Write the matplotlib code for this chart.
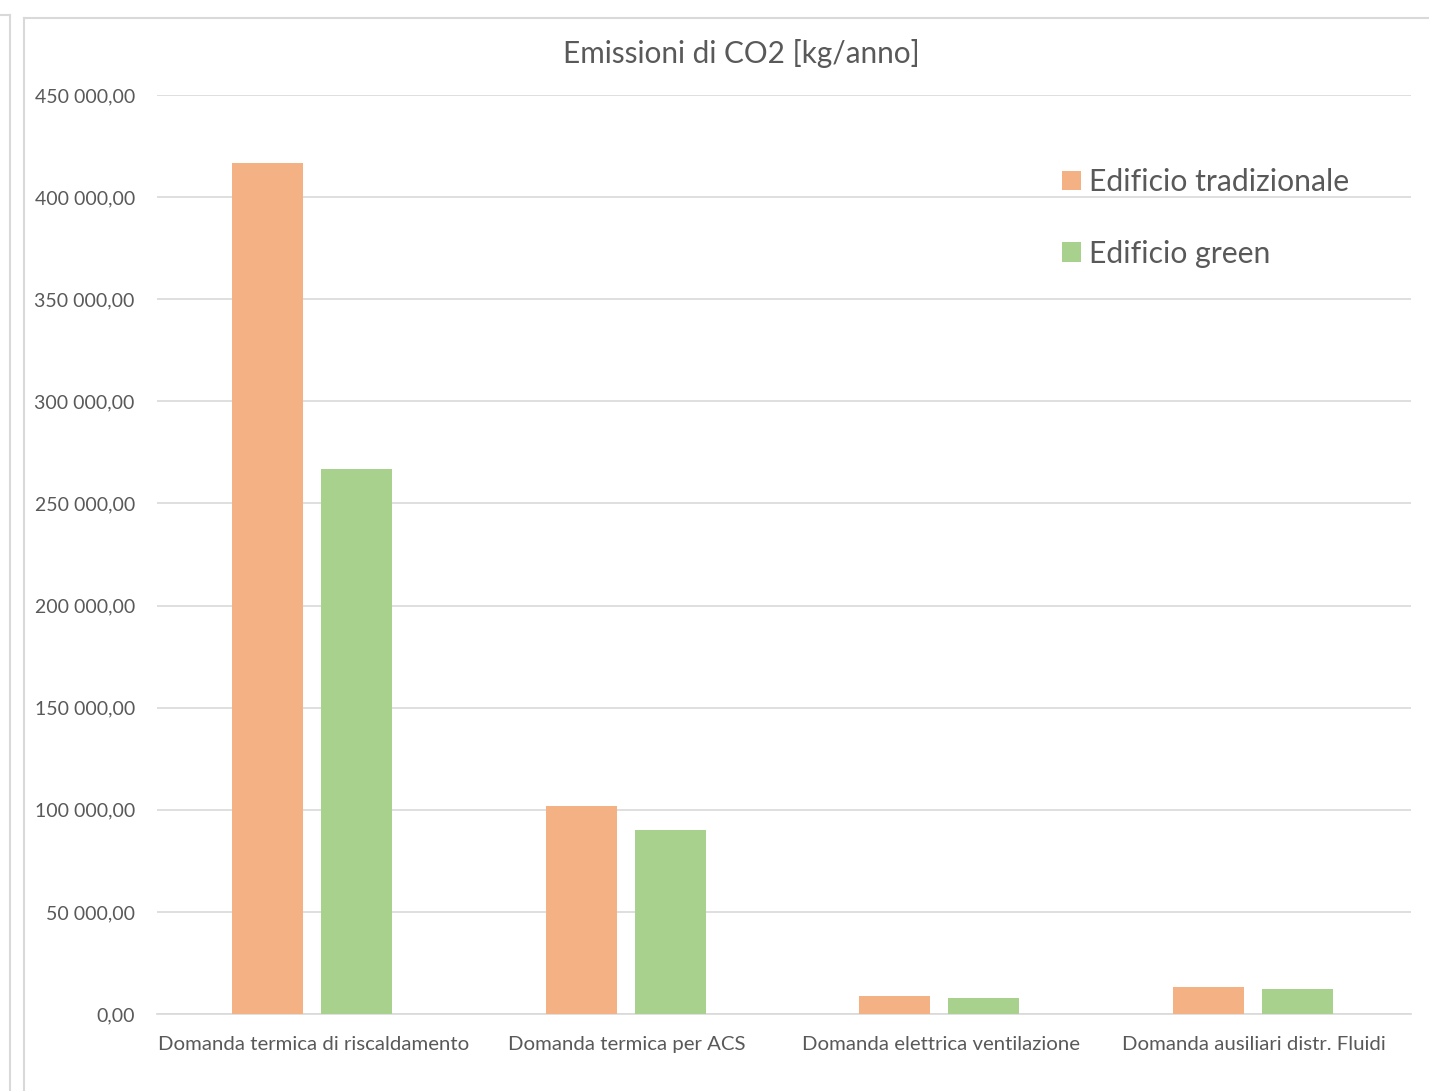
import numpy as np
import matplotlib.pyplot as plt
from matplotlib.lines import Line2D
from matplotlib.ticker import FuncFormatter

categories = [
    "Domanda termica di riscaldamento",
    "Domanda termica per ACS",
    "Domanda elettrica ventilazione",
    "Domanda ausiliari distr. Fluidi",
]
tradizionale = [416500, 101800, 8650, 13200]
green = [266900, 90100, 7850, 12250]
series_names = ["Edificio tradizionale", "Edificio green"]

ORANGE = "#F4B183"
GREEN = "#A9D18E"
TEXT = "#595959"
GRID = "#D9D9D9"

plt.rcParams["font.family"] = ["Lato", "DejaVu Sans"]

W, H = 1429, 1091
fig = plt.figure(figsize=(W / 100, H / 100), dpi=100)

# plot area in pixel coordinates
x0, x1 = 157, 1411
y_top, y_zero = 95, 1014
ax = fig.add_axes([x0 / W, 1 - y_zero / H, (x1 - x0) / W, (y_zero - y_top) / H])

x = np.arange(len(categories)) - 0.005
width = 0.226
off = 0.142
ax.bar(x - off, tradizionale, width, color=ORANGE, label=series_names[0], zorder=3)
ax.bar(x + off, green, width, color=GREEN, label=series_names[1], zorder=3)

ax.set_xlim(-0.5, len(categories) - 0.5)
ax.set_ylim(0, 450000)
ax.set_yticks(np.arange(0, 450001, 50000))


def fmt(v, pos):
    s = f"{v:,.2f}".replace(",", " ").replace(".", ",")
    return s


ax.yaxis.set_major_formatter(FuncFormatter(fmt))
ax.set_xticks(np.arange(len(categories)))
ax.set_xticklabels(categories)
ax.tick_params(axis="y", length=0, pad=16, labelsize=14, labelcolor=TEXT)
ax.tick_params(axis="x", length=0, pad=16, labelsize=14.7, labelcolor=TEXT)
ax.grid(axis="y", color=GRID, linewidth=1.2, zorder=0)
for s in ["top", "right", "left"]:
    ax.spines[s].set_visible(False)
ax.spines["bottom"].set_color(GRID)
ax.spines["bottom"].set_linewidth(1.2)

leg = ax.legend(
    loc="upper left",
    bbox_to_anchor=((1050 - x0) / (x1 - x0), (y_zero - 156) / (y_zero - y_top)),
    frameon=False,
    fontsize=21.7,
    handlelength=0.62,
    handleheight=0.62,
    handletextpad=0.28,
    labelspacing=1.45,
    borderaxespad=0,
)
for t in leg.get_texts():
    t.set_color(TEXT)

fig.text(741 / W, 1 - 53 / H, "Emissioni di CO2 [kg/anno]", ha="center",
         va="center", fontsize=21.4, color=TEXT)

# chart frame edges
frame = "#D9D9D9"
fig.add_artist(Line2D([24 / W, 24 / W], [0, 1 - 18 / H], color=frame, lw=1.5))
fig.add_artist(Line2D([24 / W, 1], [1 - 18 / H, 1 - 18 / H], color=frame, lw=1.5))
fig.add_artist(Line2D([10 / W, 10 / W], [0, 1 - 15 / H], color=frame, lw=1.5))
fig.add_artist(Line2D([0, 10 / W], [1 - 15 / H, 1 - 15 / H], color=frame, lw=1.5))

fig.savefig("out.png", dpi=100)
